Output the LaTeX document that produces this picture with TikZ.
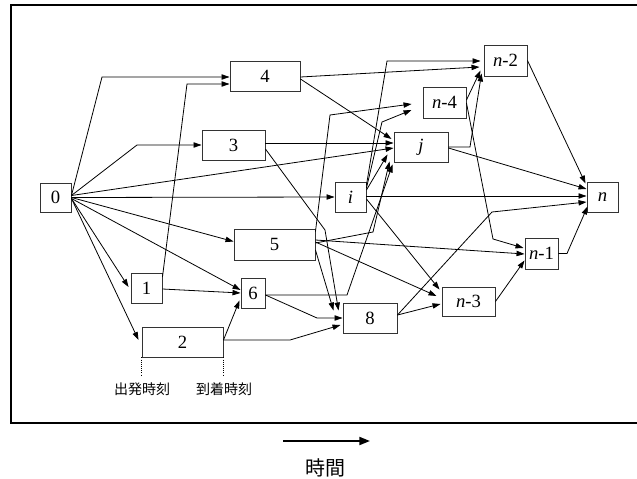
\documentclass[tikz,border=0pt]{standalone}
\usepackage{fontspec}
\setmainfont{Liberation Serif}
\newfontfamily\jpfont{Noto Sans CJK JP}
\usetikzlibrary{arrows.meta,calc}
\begin{document}
\begin{tikzpicture}[x=0.75pt,y=-0.75pt,
  box/.style={draw=black!80, line width=0.7pt, inner sep=0pt, font=\fontsize{14}{16}\selectfont},
  sz/.style 2 args={minimum width=#1*0.75pt, minimum height=#2*0.75pt},
  edge/.style={line width=0.6pt, -{Triangle[length=6pt,width=4pt]}},
  jplabel/.style={inner sep=0pt, font=\jpfont\fontsize{10.5}{12}\selectfont},
]
\useasboundingbox (0,0) rectangle (637,479);
\clip (0,0) rectangle (637,479);
\fill[white] (0,0) rectangle (637,479);
\draw[line width=1.5pt] (11,5) rectangle (650,423);

% nodes
\node[box,sz={31}{29}] (n0) at (55.5,197.5) {0};
\node[box,sz={70}{30}] (n4) at (265,76) {4};
\node[box,sz={63}{30}] (n3) at (233.5,145) {3};
\node[box,sz={81}{31}] (n5) at (274.5,244.5) {5};
\node[box,sz={31}{30}] (n1) at (146.5,288) {1};
\node[box,sz={24}{30}] (n6) at (253,293) {6};
\node[box,sz={81}{30}] (n2) at (182.5,342) {2};
\node[box,sz={54}{30}] (n8) at (370,318) {8};
\node[box,sz={31}{30}] (ni) at (350.5,197) {\textit{i}};
\node[box,sz={54}{30}] (nj) at (421,147) {\textit{j}};
\node[box,sz={43}{31}] (nn4) at (444.5,102.5) {\textit{n}-4};
\node[box,sz={43}{31}] (nn2) at (505.5,60.5) {\textit{n}-2};
\node[box,sz={31}{30}] (nn) at (602.5,197) {\textit{n}};
\node[box,sz={33}{31}] (nn1) at (541.5,253.5) {\textit{n}-1};
\node[box,sz={53}{29}] (nn3) at (468.5,301.5) {\textit{n}-3};

% edges from 0
\draw[edge] ($(n0.east)+(0,-2)$) -- (102,77) -- ($(n4.west)+(0,1)$);
\draw[edge] ($(n0.east)+(0,-2)$) -- (137,145) -- (n3.west);
\draw[edge] ($(n0.east)+(0,-2)$) -- ($(nj.west)+(0,1)$);
\draw[edge] (n0.east) -- (ni.west);
\draw[edge] (n0.east) -- ($(n5.west)+(0,-3)$);
\draw[edge] ($(n0.east)+(0,1)$) -- ($(n6.west)+(0,-3)$);
\draw[edge] ($(n0.east)+(0,1)$) -- ($(n1.west)+(-2,-1)$);
\draw[edge] ($(n0.east)+(0,1)$) -- ($(n2.west)+(-3,-2)$);
% from 1, 2
\draw[edge] ($(n1.east)+(0,-11)$) -- (187,84) -- ($(n4.west)+(0,8)$);
\draw[edge] ($(n1.east)+(0,1)$) -- (n6.west);
\draw[edge] ($(n2.east)+(0,-2)$) -- ($(n6.south west)+(-1,-8)$);
\draw[edge] ($(n2.east)+(0,-2)$) -- (290,340) -- ($(n8.west)+(-2,7)$);
% from 4, 3
\draw[edge] ($(n4.east)+(0,1)$) -- ($(nn2.west)+(-4,6.5)$);
\draw[edge] ($(n4.east)+(0,3)$) -- ($(nj.west)+(-2,-8)$);
\draw[edge] ($(n3.east)+(0,-2)$) -- ($(nj.west)+(0,-4)$);
\draw[edge] ($(n3.east)+(0,4)$) -- (325,230) -- ($(n8.north west)+(-4,8)$);
% from 5
\draw[edge] ($(n5.east)+(0,-1.5)$) -- (373,232) -- ($(nj.south west)+(-4,-1)$);
\draw[edge] ($(n5.east)+(0,-4.5)$) -- ($(nn1.west)+(0,0.5)$);
\draw[edge] ($(n5.east)+(0,-2.5)$) -- ($(nn3.west)+(-5,-5.5)$);
\draw[edge] ($(n5.east)+(0,5.5)$) -- ($(n8.north west)+(-9,8)$);
\draw[edge] ($(n5.north east)+(0,3)$) -- (330,115) -- ($(nn4.west)+(-11,1.5)$);
% from 6
\draw[edge] ($(n6.east)+(0,2)$) -- (317,318) -- (n8.west);
\draw[edge] ($(n6.east)+(0,2)$) -- (347,295) -- ($(nj.south west)+(-1,2)$);
% from i
\draw[edge] ($(ni.east)+(0,-1)$) -- ($(nn.west)+(0,-1)$);
\draw[edge] ($(ni.east)+(0,-12)$) -- (387,61) -- ($(nn2.west)+(-3,0.5)$);
\draw[edge] ($(ni.east)+(0,-9)$) -- (382,122) -- ($(nn4.west)+(-11,7.5)$);
\draw[edge] ($(ni.east)+(0,-7)$) -- ($(nj.south west)+(-6,-8)$);
\draw[edge] ($(ni.east)+(0,2)$) -- ($(nn3.north west)+(-2,3)$);
% from 8
\draw[edge] ($(n8.east)+(0,-3)$) -- ($(nn3.west)+(-1,2.5)$);
\draw[edge] ($(n8.east)+(0,-3)$) -- (492,212) -- ($(nn.west)+(0,5)$);
% from n-4, j, n-2, n-1, n-3
\draw[edge] ($(nn4.east)+(0,-2.5)$) -- ($(nn2.south west)+(-3,-6)$);
\draw[edge] ($(nn4.east)+(0,0.5)$) -- (493,239) -- ($(nn1.west)+(-1,-5.5)$);
\draw[edge] (nj.east) -- (470,147) -- ($(nn2.south west)+(-2,-3)$);
\draw[edge] ($(nj.east)+(0,1)$) -- ($(nn.west)+(0,-8)$);
\draw[edge] (nn2.east) -- ($(nn.north west)+(-1,2)$);
\draw[edge] (nn1.east) -- (567,253.5) -- ($(nn.south west)+(1,-6)$);
\draw[edge] (nn3.east) -- ($(nn1.south west)+(0,-9)$);

% departure / arrival markers
\draw[line width=0.6pt, densely dotted] (n2.south west) -- ++(0,18) coordinate (dep);
\draw[line width=0.6pt, densely dotted] (n2.south east) -- ++(0,18) coordinate (arr);
\node[jplabel] (deplabel) at (142,389) {出発時刻};
\node[jplabel] (arrlabel) at (224,389) {到着時刻};

% time axis
\coordinate (ta) at (283,441);
\coordinate (tb) at (370,441);
\draw[line width=1.5pt, -{Triangle[length=8pt,width=6pt]}] (ta) -- (tb);
\node[inner sep=0pt, font=\jpfont\fontsize{15}{17}\selectfont] (timelabel) at (325,468) {時間};
\end{tikzpicture}
\end{document}
